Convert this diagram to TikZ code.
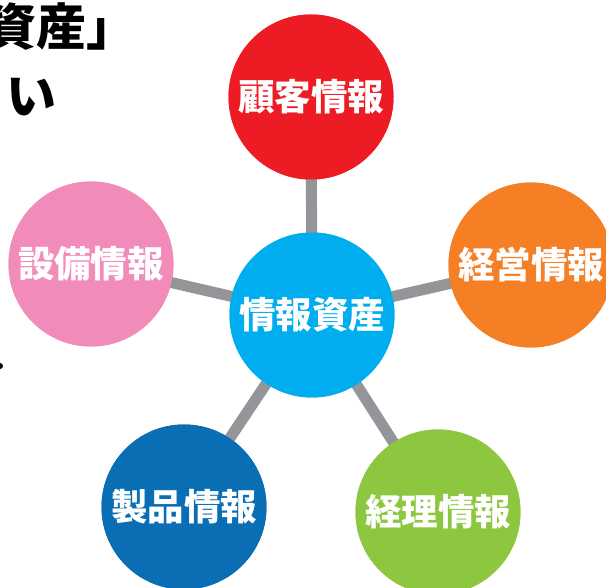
\documentclass[tikz,border=0pt]{standalone}
\usepackage{fontspec}
\newfontfamily\jp{Noto Sans CJK JP}
\definecolor{cred}{HTML}{ED1C24}
\definecolor{corange}{HTML}{F47F24}
\definecolor{cpink}{HTML}{F18CBA}
\definecolor{cdblue}{HTML}{0A6EB4}
\definecolor{cgreen}{HTML}{8DC63F}
\definecolor{ccyan}{HTML}{00AEEF}
\definecolor{cgray}{HTML}{939598}
\tikzset{
  bubble/.style={circle, minimum size=165pt, inner sep=0pt, text=white,
    font=\jp\bfseries\fontsize{36.5}{36.5}\selectfont},
  link/.style={draw=cgray, line width=11pt},
  title/.style={font=\jp\bfseries\fontsize{50}{50}\selectfont, text=black, inner sep=0pt}
}
\begin{document}
\begin{tikzpicture}[x=1pt,y=-1pt]
\useasboundingbox (0,0) rectangle (606,588);
\clip (0,0) rectangle (606,588);
\fill[white] (0,0) rectangle (606,588);
\node[title, anchor=east] (t1) at (137,27) {資産」};
\node[title, anchor=west] (t2) at (6,97) {い};
\fill[black] (0,366) circle (3);
\node[bubble, fill=ccyan] (c) at (312,315) {};
\node[bubble, fill=cred] (top) at (311,97) {};
\node[bubble, fill=corange] (r) at (531,265) {};
\node[bubble, fill=cpink] (l) at (91,264) {};
\node[bubble, fill=cdblue] (bl) at (184,507) {};
\node[bubble, fill=cgreen] (br) at (438,512) {};
\draw[link] (c.center) -- (top.center);
\draw[link] (c.center) -- (r.center);
\draw[link] (c.center) -- (l.center);
\draw[link] (c.center) -- (bl.center);
\draw[link] (c.center) -- (br.center);
\node[bubble, fill=cred] at (top) {顧客情報};
\node[bubble, fill=corange] at (r) {経営情報};
\node[bubble, fill=cpink] at (l) {設備情報};
\node[bubble, fill=cdblue] at (bl) {製品情報};
\node[bubble, fill=cgreen] at (br) {経理情報};
\node[bubble, fill=ccyan] at (c) {情報資産};
\end{tikzpicture}
\end{document}
